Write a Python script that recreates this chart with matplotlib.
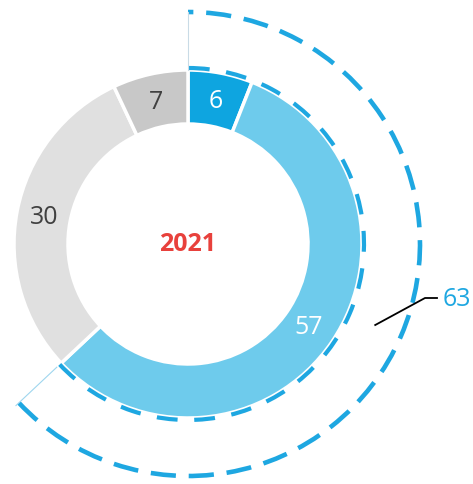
import numpy as np
import matplotlib.pyplot as plt
from matplotlib.patches import Arc

# Share data (percent), clockwise from 12 o'clock
values = [6, 57, 30, 7]
colors = ["#0ea5e0", "#6ecbec", "#e0e0e0", "#c8c8c8"]
label_colors = ["white", "white", "#404040", "#404040"]
year = "2021"
highlight_total = 63  # first two segments

plt.rcParams['font.family'] = ['Open Sans', 'DejaVu Sans']

fig = plt.figure(figsize=(4.73, 4.85), dpi=100)
ax = fig.add_axes([0, 0, 1, 1])

r_out = 174
r_in = 120
wedges, _ = ax.pie(values, colors=colors, radius=r_out, startangle=90,
                   counterclock=False,
                   wedgeprops=dict(width=r_out - r_in, edgecolor="white", linewidth=2.5))

# segment labels
total = sum(values)
cum = 0
r_lab = 146
for v, c in zip(values, label_colors):
    mid = np.deg2rad(90 - (cum + v / 2) / total * 360)
    ax.text(r_lab * np.cos(mid), r_lab * np.sin(mid), str(v), color=c,
            fontsize=18, ha="center", va="center")
    cum += v

ax.text(0, 0, year, color="#e8413c", fontsize=18, fontweight="bold",
        ha="center", va="center")

# dashed highlight arcs around first two segments
blue = "#1ea7e1"
end_ang = 90 - highlight_total / total * 360
ax.add_patch(Arc((0, 0), 2 * 176, 2 * 176, theta1=end_ang, theta2=90,
                 color=blue, lw=3, linestyle=(0, (5, 4))))
ax.add_patch(Arc((0, 0), 2 * 232, 2 * 232, theta1=end_ang, theta2=90,
                 color=blue, lw=3.3, linestyle=(0, (5.5, 2.8))))

# thin radial boundary lines
ax.plot([0, 0], [r_out, 232], color="#c9dbe6", lw=0.8)
e = np.deg2rad(end_ang)
ax.plot([180 * np.cos(e), 236 * np.cos(e)], [180 * np.sin(e), 236 * np.sin(e)],
        color="#9fd6ee", lw=0.8)

# leader line and total label
mid = np.deg2rad(90 - highlight_total / total * 180)
x0, y0 = 204 * np.cos(mid), 204 * np.sin(mid)
ax.plot([x0, 237, 249], [y0, -54, -54], color="black", lw=1.3)
ax.text(255, -54, str(highlight_total), color=blue, fontsize=18,
        ha="left", va="center")

ax.set_xlim(-188, 285)
ax.set_ylim(-240, 245)
ax.set_aspect("equal")
ax.axis("off")

fig.savefig("out.png", dpi=100)
